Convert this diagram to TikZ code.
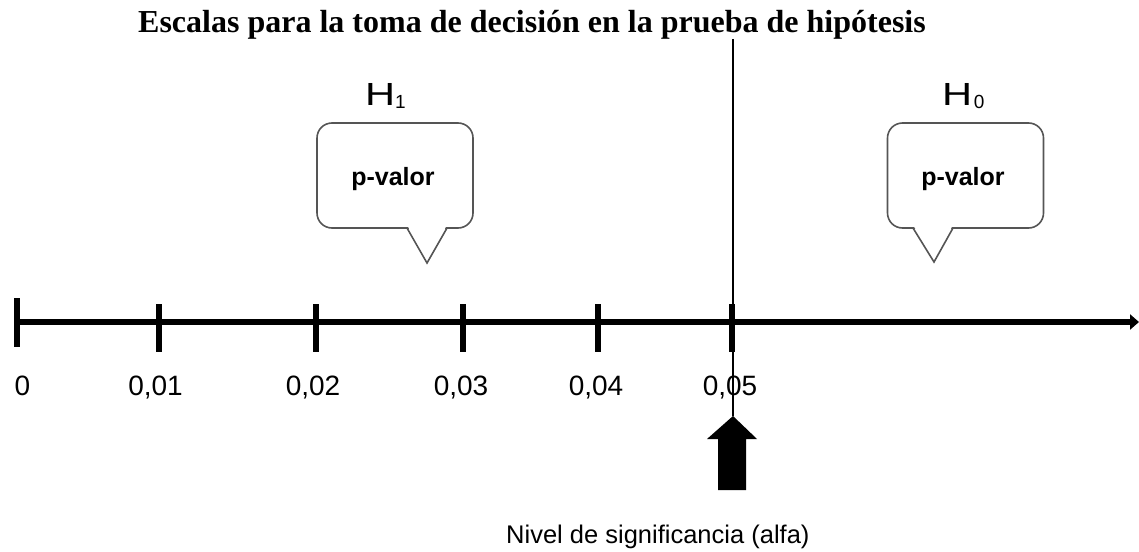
\documentclass[tikz,border=0pt]{standalone}
\usepackage{fontspec}
\setmainfont{Liberation Serif}
\newfontfamily\arialf{Liberation Sans}
\usetikzlibrary{arrows.meta}
\definecolor{calloutgray}{HTML}{555555}
\begin{document}
\begin{tikzpicture}[x=1pt,y=-1pt,
  lab/.style={anchor=base, inner sep=0, font=\arialf\fontsize{28}{30}\selectfont},
  hyp/.style={anchor=base west, inner sep=0, font=\arialf\fontsize{32}{34}\selectfont},
  callbox/.style={draw=calloutgray, line width=1.6, rounded corners=15, minimum width=156, minimum height=105, inner sep=0},
  pointer/.style={draw=calloutgray, line width=1.6, line join=miter},
  pv/.style={inner sep=0, font=\arialf\bfseries\fontsize{25}{27}\selectfont},
  axisline/.style={line width=6, -{Triangle[length=9,width=15]}},
  tickmark/.style={line width=6.5},
]
\useasboundingbox (0,0) rectangle (1139,551);

% title
\node[anchor=base west, inner sep=0, font=\bfseries\fontsize{32}{36}\selectfont] (title) at (138,33)
  {Escalas para la toma de decisión en la prueba de hipótesis};

% hypotheses labels
\node[hyp] (h1) at (365,105) {\scalebox{1.3}[1]{H}\raisebox{-3pt}{\fontsize{19}{19}\selectfont 1}};
\node[hyp] (h0) at (942,105) {\scalebox{1.3}[1]{H}\kern1.5pt\raisebox{-3pt}{\fontsize{19}{19}\selectfont 0}};

% callouts
\node[callbox] (c1) at (395,175.5) {};
\fill[white] (407.8,226.3) -- (446.2,226.3) -- (427,261) -- cycle;
\draw[pointer] (407,228) -- (427,263) -- (447,228);
\node[pv] (pv1) at (393,179) {p-valor};

\node[callbox] (c2) at (965.5,175.5) {};
\fill[white] (913.8,226.3) -- (952.2,226.3) -- (934,260) -- cycle;
\draw[pointer] (913,228) -- (934,262) -- (953,228);
\node[pv] (pv2) at (963,179) {p-valor};

% vertical line and alpha arrow
\coordinate (vtop) at (733,39);
\coordinate (atip) at (733,416);
\draw[line width=2] (vtop) -- (atip);
\fill (718,490) -- (718,439) -- (707,439) -- (atip) -- (757,439) -- (746,439) -- (746,490) -- cycle;

% axis
\coordinate (astart) at (14,322);
\coordinate (aend) at (1139,322);
\draw[axisline] (astart) -- (aend);

% ticks
\draw[tickmark] (17,298) -- (17,347);
\foreach \x in {159,316,463,598,732} {
  \draw[tickmark] (\x,304) -- (\x,352);
}

% tick labels
\node[lab] (l0) at (22.5,395) {0};
\node[lab] (l1) at (155.5,395) {0,01};
\node[lab] (l2) at (313,395) {0,02};
\node[lab] (l3) at (461,395) {0,03};
\node[lab] (l4) at (596,395) {0,04};
\node[lab] (l5) at (730,395) {0,05};

% alpha label
\node[anchor=base west, inner sep=0, font=\arialf\fontsize{25.5}{28}\selectfont] (alpha) at (506,543)
  {Nivel de significancia (alfa)};
\end{tikzpicture}
\end{document}
